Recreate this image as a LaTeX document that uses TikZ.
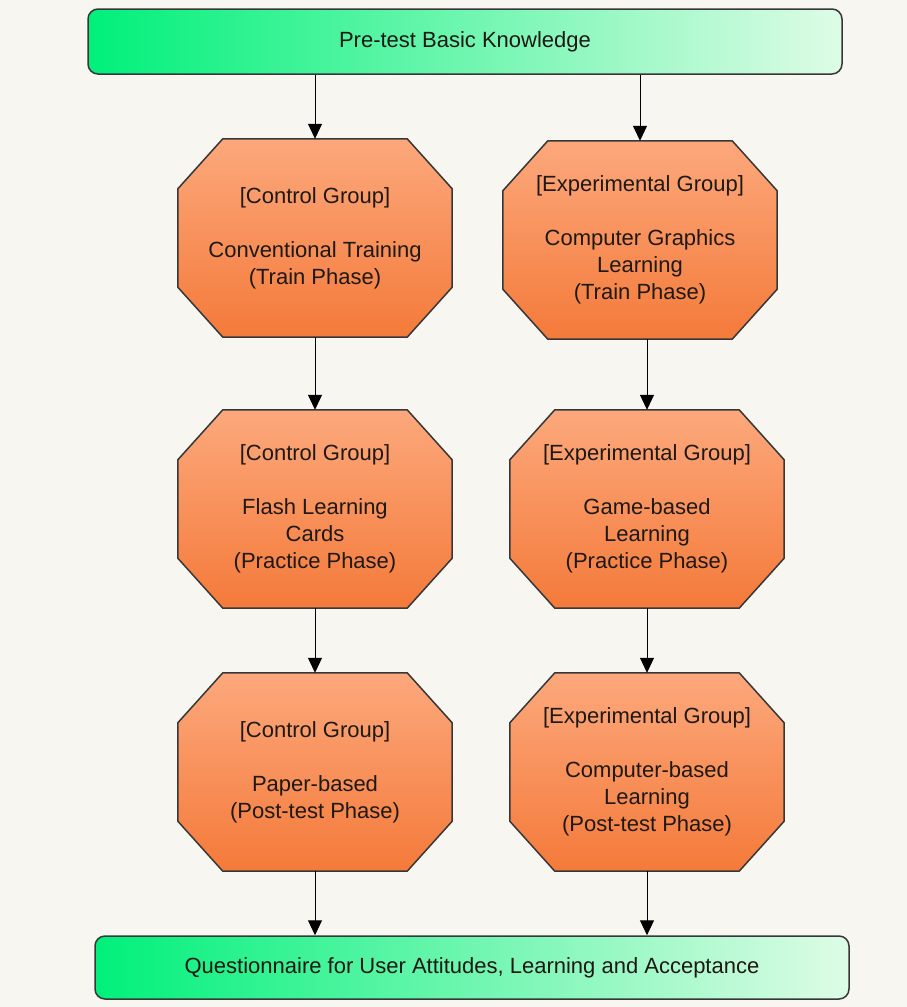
\documentclass[tikz,border=0pt]{standalone}
\usepackage{fontspec}
\setmainfont{Liberation Sans}
\usetikzlibrary{calc,arrows.meta}
\pgfdeclarelayer{background}
\pgfsetlayers{background,main}

\definecolor{canvas}{RGB}{248,246,240}
\definecolor{edge}{RGB}{55,55,55}
\definecolor{ink}{RGB}{30,25,20}
\definecolor{greenL}{RGB}{0,240,122}
\definecolor{greenR}{RGB}{222,252,230}
\definecolor{orangeT}{RGB}{252,168,124}
\definecolor{orangeB}{RGB}{244,122,58}

\tikzset{
  labelfont/.style={font=\fontsize{22}{27}\selectfont, text=ink},
  banner/.style={rectangle, rounded corners=10pt, draw=edge, line width=1.5pt,
    left color=greenL, right color=greenR, minimum width=754pt,
    inner sep=0pt, labelfont},
  stepbox/.style={rectangle, minimum width=274pt, minimum height=198pt,
    inner sep=0pt, align=center, labelfont},
  octfill/.style={draw=edge, line width=1.5pt, top color=orangeT, bottom color=orangeB},
  flow/.style={draw=black, line width=1pt, -{Triangle[length=15pt,width=14pt]}}
}

\begin{document}
\begin{tikzpicture}[x=1pt,y=-1pt]
\useasboundingbox (0,0) rectangle (907,1007);

% start and end of the study
\node[banner, minimum height=65pt] (pre) at (465,41.5) {Pre-test Basic Knowledge};
\node[banner, minimum height=63pt] (quest) at (472,967.5)
  {Questionnaire for User Attitudes, Learning and Acceptance};

% control group column
\node[stepbox] (c1) at (315,238) {[Control Group]\\[27pt]Conventional Training\\(Train Phase)};
\node[stepbox] (c2) at (315,509) {[Control Group]\\[27pt]Flash Learning\\Cards\\(Practice Phase)};
\node[stepbox] (c3) at (315,772) {[Control Group]\\[27pt]Paper-based\\(Post-test Phase)};

% experimental group column
\node[stepbox] (e1) at (640,240) {[Experimental Group]\\[27pt]Computer Graphics\\Learning\\(Train Phase)};
\node[stepbox] (e2) at (647,509) {[Experimental Group]\\[27pt]Game-based\\Learning\\(Practice Phase)};
\node[stepbox] (e3) at (647,772) {[Experimental Group]\\[27pt]Computer-based\\Learning\\(Post-test Phase)};

% octagonal outlines behind the step texts
\begin{pgfonlayer}{background}
  \fill[canvas] (0,0) rectangle (907,1007);
  \foreach \n in {c1,c2,c3,e1,e2,e3}{
    \shade[octfill]
      ($(\n.north west)+(45,0)$) -- ($(\n.north east)+(-45,0)$) --
      ($(\n.north east)+(0,50)$) -- ($(\n.south east)+(0,-50)$) --
      ($(\n.south east)+(-45,0)$) -- ($(\n.south west)+(45,0)$) --
      ($(\n.south west)+(0,-50)$) -- ($(\n.north west)+(0,50)$) -- cycle;
  }
\end{pgfonlayer}

% connectors
\draw[flow] (pre.south -| c1.north) -- (c1.north);
\draw[flow] (pre.south -| e1.north) -- (e1.north);
\draw[flow] (c1.south) -- (c2.north);
\draw[flow] (c2.south) -- (c3.north);
\draw[flow] (e2.north |- e1.south) -- (e2.north);
\draw[flow] (e2.south) -- (e3.north);
\draw[flow] (c3.south) -- (c3.south |- quest.north);
\draw[flow] (e3.south) -- (e3.south |- quest.north);
\end{tikzpicture}
\end{document}
